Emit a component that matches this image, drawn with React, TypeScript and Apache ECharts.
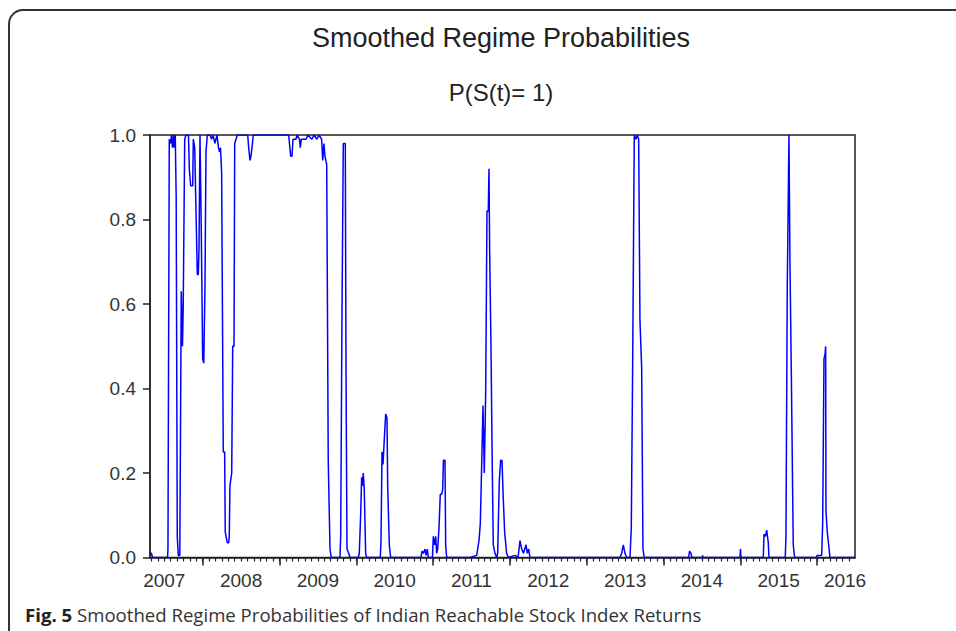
import React, { useEffect, useRef } from "react";
import * as echarts from "echarts";

// Observation time (fractional calendar year) of each vertex of the smoothed-probability line
const obsTime = [
  2007.314, 2007.333, 2007.346, 2007.542, 2007.548, 2007.565, 2007.581, 2007.594, 2007.607, 2007.62,
  2007.63, 2007.643, 2007.655, 2007.669, 2007.682, 2007.702, 2007.708, 2007.721, 2007.737, 2007.747,
  2007.766, 2007.783, 2007.815, 2007.826, 2007.844, 2007.87, 2007.878, 2007.896, 2007.913, 2007.93,
  2007.943, 2007.952, 2007.965, 2007.982, 2008.0, 2008.014, 2008.03, 2008.043, 2008.06, 2008.095,
  2008.115, 2008.134, 2008.16, 2008.186, 2008.206, 2008.219, 2008.232, 2008.247, 2008.268, 2008.286,
  2008.294, 2008.32, 2008.339, 2008.346, 2008.355, 2008.378, 2008.391, 2008.408, 2008.417, 2008.434,
  2008.451, 2008.586, 2008.599, 2008.616, 2008.629, 2008.642, 2008.659, 2009.12, 2009.13, 2009.146,
  2009.163, 2009.176, 2009.215, 2009.228, 2009.26, 2009.271, 2009.284, 2009.345, 2009.371, 2009.423,
  2009.449, 2009.488, 2009.514, 2009.549, 2009.563, 2009.579, 2009.592, 2009.615, 2009.635, 2009.658,
  2009.674, 2009.788, 2009.797, 2009.814, 2009.831, 2009.857, 2009.866, 2009.879, 2009.901, 2009.918,
  2010.026, 2010.039, 2010.057, 2010.07, 2010.081, 2010.091, 2010.104, 2010.122, 2010.135, 2010.313,
  2010.322, 2010.335, 2010.348, 2010.365, 2010.383, 2010.4, 2010.409, 2010.43, 2010.448, 2010.842,
  2010.856, 2010.875, 2010.895, 2010.908, 2010.925, 2010.938, 2010.992, 2011.003, 2011.021, 2011.034,
  2011.047, 2011.06, 2011.077, 2011.094, 2011.112, 2011.125, 2011.135, 2011.155, 2011.164, 2011.177,
  2011.48, 2011.568, 2011.598, 2011.615, 2011.633, 2011.65, 2011.667, 2011.685, 2011.702, 2011.719,
  2011.728, 2011.737, 2011.754, 2011.771, 2011.784, 2011.806, 2011.828, 2011.841, 2011.862, 2011.88,
  2011.897, 2011.914, 2011.932, 2011.958, 2011.979, 2012.066, 2012.106, 2012.132, 2012.154, 2012.177,
  2012.21, 2012.227, 2012.245, 2012.262, 2013.434, 2013.456, 2013.477, 2013.499, 2013.521, 2013.564,
  2013.581, 2013.599, 2013.62, 2013.642, 2013.659, 2013.677, 2013.694, 2013.716, 2013.733, 2013.75,
  2014.328, 2014.339, 2014.358, 2014.371, 2014.505, 2014.51, 2014.518, 2014.996, 2015.003, 2015.009,
  2015.3, 2015.309, 2015.328, 2015.344, 2015.365, 2015.374, 2015.586, 2015.595, 2015.612, 2015.634,
  2015.647, 2015.664, 2015.69, 2015.708, 2015.995, 2015.999, 2016.06, 2016.073, 2016.09, 2016.103,
  2016.112, 2016.116, 2016.133, 2016.151, 2016.168, 2016.494,
];

// Smoothed probability P(S(t)=1) at each vertex
const smoothedProb = [
  0.01, 0.01, 0.0, 0.0, 0.02, 0.99, 0.98, 1.0, 0.97, 1.0,
  0.97, 1.0, 0.85, 0.05, 0.005, 0.005, 0.2, 0.63, 0.5, 0.6,
  0.99, 1.0, 1.0, 0.92, 0.88, 0.88, 0.99, 0.97, 0.82, 0.67,
  0.67, 0.73, 1.0, 0.77, 0.47, 0.46, 0.64, 0.96, 1.0, 1.0,
  0.99, 1.0, 0.98, 1.0, 0.97, 0.96, 0.97, 0.91, 0.25, 0.25,
  0.06, 0.035, 0.035, 0.05, 0.17, 0.2, 0.5, 0.5, 0.98, 0.99,
  1.0, 1.0, 0.97, 0.94, 0.95, 0.97, 1.0, 1.0, 0.98, 0.95,
  0.95, 0.99, 0.99, 1.0, 0.99, 0.97, 0.99, 0.99, 1.0, 0.99,
  1.0, 0.99, 1.0, 0.99, 0.94, 0.98, 0.95, 0.93, 0.23, 0.02,
  0.0, 0.0, 0.05, 0.58, 0.98, 0.98, 0.46, 0.02, 0.01, 0.0,
  0.0, 0.01, 0.1, 0.19, 0.17, 0.2, 0.16, 0.01, 0.0, 0.0,
  0.04, 0.25, 0.22, 0.28, 0.34, 0.33, 0.17, 0.03, 0.0, 0.0,
  0.015, 0.01, 0.02, 0.005, 0.02, 0.0, 0.0, 0.05, 0.03, 0.05,
  0.01, 0.02, 0.07, 0.15, 0.15, 0.16, 0.23, 0.23, 0.03, 0.0,
  0.0, 0.005, 0.04, 0.08, 0.22, 0.36, 0.2, 0.39, 0.82, 0.82,
  0.92, 0.72, 0.5, 0.21, 0.03, 0.01, 0.0, 0.01, 0.18, 0.23,
  0.23, 0.14, 0.06, 0.01, 0.0, 0.005, 0.0, 0.04, 0.02, 0.01,
  0.03, 0.01, 0.02, 0.0, 0.0, 0.01, 0.03, 0.01, 0.0, 0.0,
  0.07, 0.46, 1.0, 0.99, 1.0, 0.99, 0.56, 0.45, 0.02, 0.0,
  0.0, 0.015, 0.01, 0.0, 0.0, 0.005, 0.0, 0.0, 0.02, 0.0,
  0.0, 0.055, 0.05, 0.065, 0.035, 0.0, 0.0, 0.05, 0.64, 1.0,
  0.7, 0.45, 0.03, 0.0, 0.0, 0.005, 0.005, 0.08, 0.47, 0.48,
  0.5, 0.11, 0.06, 0.03, 0.0, 0.0,
];

const yearLabels = ["2007", "2008", "2009", "2010", "2011", "2012", "2013", "2014", "2015", "2016"];
const yTicks = [0, 0.2, 0.4, 0.6, 0.8, 1.0];

const chartTitle = "Smoothed Regime Probabilities";
const chartSubtitle = "P(S(t)= 1)";
const captionBold = "Fig. 5";
const captionText = " Smoothed Regime Probabilities of Indian Reachable Stock Index Returns";

export default function App() {
  const ref = useRef<HTMLDivElement>(null);

  useEffect(() => {
    if (!ref.current) return;
    const chart = echarts.init(ref.current, null, { renderer: "svg" });
    const xMin = obsTime[0];
    const xMax = obsTime[obsTime.length - 1];
    const firstYear = parseInt(yearLabels[0], 10);
    const lastYear = parseInt(yearLabels[yearLabels.length - 1], 10);

    const monthTicks: number[] = [];
    for (let y = firstYear; y <= lastYear; y++) {
      for (let m = 0; m < 12; m++) {
        const v = y + m / 12;
        if (v >= xMin && v <= xMax) monthTicks.push(v);
      }
    }
    const yearTicks: number[] = [];
    for (let y = firstYear; y <= lastYear; y++) if (y >= xMin && y <= xMax) yearTicks.push(y);
    const labelPos = yearLabels.map((s) => Math.min(parseInt(s, 10) + 0.5, xMax - 0.13));

    const axisFont = '"Liberation Sans", Arial, sans-serif';
    const titleFont = '"Liberation Sans", Arial, sans-serif';
    const capFont = '"Open Sans", "Noto Sans", sans-serif';

    chart.setOption({
      animation: false,
      backgroundColor: "#ffffff",
      grid: {
        left: 150,
        right: 101,
        top: 135,
        bottom: 73.5,
        show: true,
        borderColor: "#222",
        borderWidth: 1.5,
        containLabel: false,
      },
      xAxis: [
        {
          type: "value",
          min: xMin,
          max: xMax,
          axisLine: { show: true, lineStyle: { color: "#222", width: 1.5 } },
          axisTick: {
            show: true,
            customValues: monthTicks,
            length: 4,
            inside: false,
            lineStyle: { color: "#222", width: 1.2 },
          },
          axisLabel: {
            show: true,
            customValues: labelPos,
            formatter: (v: number) => String(Math.floor(v)),
            fontFamily: axisFont,
            fontSize: 19,
            color: "#333",
            margin: 13,
          },
          splitLine: { show: false },
        },
        {
          type: "value",
          min: xMin,
          max: xMax,
          position: "bottom",
          axisLine: { show: false },
          axisTick: {
            show: true,
            customValues: yearTicks,
            length: 8,
            lineStyle: { color: "#222", width: 1.5 },
          },
          axisLabel: { show: false },
          splitLine: { show: false },
        },
      ],
      yAxis: {
        type: "value",
        min: 0,
        max: 1,
        interval: 0.2,
        axisLine: { show: true, lineStyle: { color: "#222", width: 1.5 } },
        axisTick: { show: true, length: 7, lineStyle: { color: "#222", width: 1.5 } },
        axisLabel: {
          formatter: (v: number) => v.toFixed(1),
          fontFamily: axisFont,
          fontSize: 19,
          color: "#333",
          margin: 14,
          customValues: yTicks,
        },
        splitLine: { show: false },
      },
      series: [
        {
          type: "line",
          xAxisIndex: 0,
          data: obsTime.map((t, i) => [t, smoothedProb[i]]),
          showSymbol: false,
          symbol: "none",
          lineStyle: { color: "#0000ff", width: 1.5 },
          clip: true,
        },
      ],
      graphic: [
        {
          type: "rect",
          shape: { x: 9, y: 10, width: 1200, height: 900, r: 14 },
          style: { fill: "none", stroke: "#333", lineWidth: 2 },
          silent: true,
        },
        {
          type: "text",
          x: 501,
          y: 38,
          style: {
            text: chartTitle,
            fontFamily: titleFont,
            fontSize: 27,
            fill: "#222",
            align: "center",
            verticalAlign: "middle",
          },
        },
        {
          type: "text",
          x: 501,
          y: 92,
          style: {
            text: chartSubtitle,
            fontFamily: titleFont,
            fontSize: 24,
            fill: "#222",
            align: "center",
            verticalAlign: "middle",
          },
        },
        {
          type: "text",
          x: 25,
          y: 614,
          style: {
            text: "{b|" + captionBold + "}" + captionText,
            fontFamily: capFont,
            fontSize: 18.6,
            fill: "#333",
            align: "left",
            verticalAlign: "middle",
            rich: {
              b: { fontFamily: capFont, fontSize: 18.6, fontWeight: "bold", fill: "#222" },
            },
          },
        },
      ],
    });
    return () => chart.dispose();
  }, []);

  return (
    <div
      ref={ref}
      style={{ position: "fixed", left: 0, top: 0, width: 956, height: 631, background: "#fff" }}
    />
  );
}
